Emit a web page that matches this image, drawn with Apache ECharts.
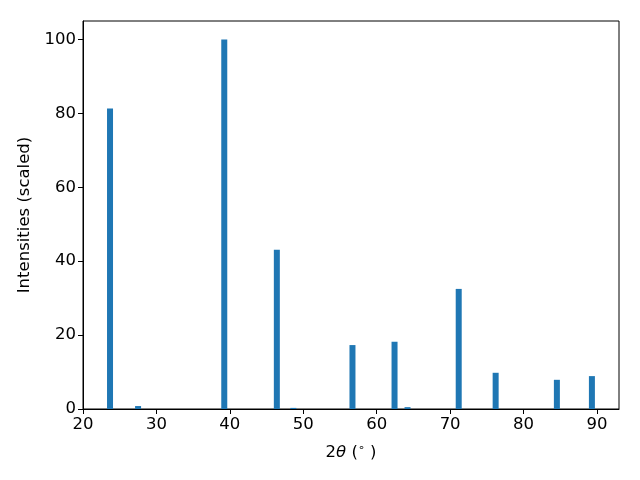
<!DOCTYPE html>
<html>
<head>
<meta charset="utf-8">
<script src="https://cdn.jsdelivr.net/npm/echarts@6/dist/echarts.min.js"></script>
<style>html,body{margin:0;padding:0;background:#fff;}#c{width:640px;height:480px;}</style>
</head>
<body>
<div id="c"></div>
<script>
const twoTheta = [23.68, 27.5, 39.24, 46.4, 48.65, 56.7, 62.43, 64.2, 71.17, 76.2, 84.54, 89.31];
const intensity = [81.3, 0.8, 100, 43.1, 0.3, 17.3, 18.2, 0.5, 32.5, 9.8, 7.9, 8.9];
const xTicks = [20, 30, 40, 50, 60, 70, 80, 90];
const yTicks = [0, 20, 40, 60, 80, 100];

const font = 'DejaVu Sans';
const fs = 16.5;
const chart = echarts.init(document.getElementById('c'), null, {renderer: 'canvas'});
chart.setOption({
  animation: false,
  grid: {left: 83, right: 21, top: 21, bottom: 71, show: true, borderColor: '#000', borderWidth: 1, backgroundColor: 'transparent'},
  xAxis: {
    type: 'value', min: 20, max: 93, interval: 10,
    splitLine: {show: false},
    axisLine: {show: true, onZero: false, lineStyle: {color: '#000', width: 1}},
    axisTick: {show: true, length: 5, lineStyle: {color: '#000'}, customValues: xTicks},
    axisLabel: {color: '#000', fontFamily: font, fontSize: fs, margin: 7, customValues: xTicks},
    name: '{a|2}{b|θ}{a| (}{s|∘}{a| )}',
    nameLocation: 'middle', nameGap: 34,
    nameTextStyle: {
      color: '#000', fontFamily: font, fontSize: fs,
      rich: {
        a: {fontFamily: font, fontSize: fs, color: '#000'},
        b: {fontFamily: font, fontSize: fs, fontStyle: 'italic', color: '#000'},
        s: {fontFamily: font, fontSize: 11, color: '#000', padding: [0, 0, 9, 0]}
      }
    }
  },
  yAxis: {
    type: 'value', min: 0, max: 105, interval: 20,
    splitLine: {show: false},
    axisLine: {show: true, lineStyle: {color: '#000', width: 1}},
    axisTick: {show: true, length: 5, lineStyle: {color: '#000'}, customValues: yTicks},
    axisLabel: {color: '#000', fontFamily: font, fontSize: fs, margin: 7, customValues: yTicks},
    name: 'Intensities (scaled)',
    nameLocation: 'middle', nameGap: 48,
    nameTextStyle: {color: '#000', fontFamily: font, fontSize: fs}
  },
  series: [{
    type: 'bar',
    barWidth: 6,
    itemStyle: {color: '#1f77b4'},
    data: twoTheta.map((x, i) => [x, intensity[i]])
  }]
});
</script>
</body>
</html>
